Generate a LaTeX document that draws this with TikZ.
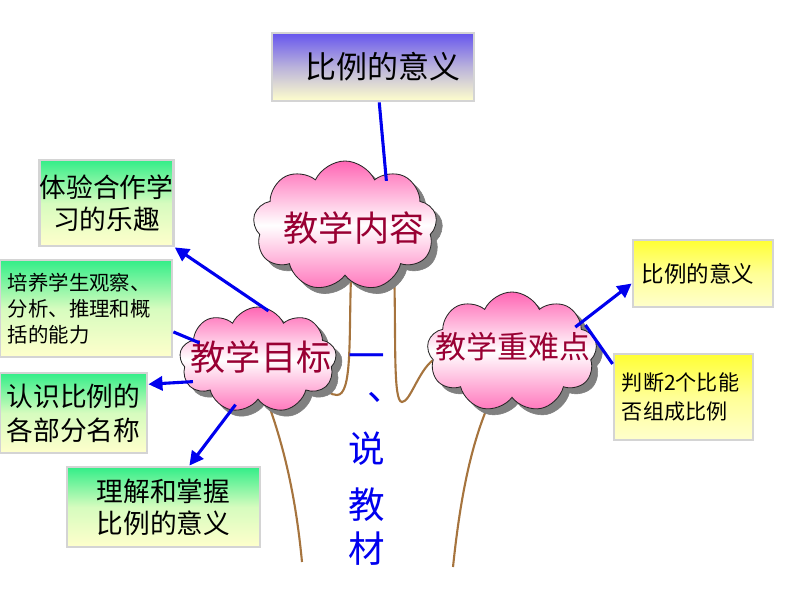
\documentclass[tikz,border=0pt]{standalone}
\usepackage{fontspec}
\setmainfont{Noto Sans CJK SC}
\usepackage{tikz}
\usetikzlibrary{arrows.meta,shapes}
\pgfdeclarelayer{bg}
\pgfsetlayers{bg,main}
\definecolor{CbG}{RGB}{51,238,136}
\definecolor{CbY}{RGB}{255,255,204}
\definecolor{CbP}{RGB}{102,85,238}
\definecolor{CbL}{RGB}{255,255,51}
\definecolor{CcP}{RGB}{255,102,180}
\definecolor{CtR}{RGB}{153,0,51}
\definecolor{ClB}{RGB}{0,0,238}
\definecolor{CrB}{RGB}{166,116,62}
\definecolor{CfG}{RGB}{212,212,212}
\definecolor{CsG}{RGB}{128,128,128}
\tikzset{
boxbase/.style={rectangle, draw=CfG, line width=2pt, inner sep=0pt, text=black},
greenbox/.style={boxbase, top color=CbG, bottom color=CbY, middle color=CbY!80!CbG},
yellowbox/.style={boxbase, top color=CbL, bottom color=CbY, middle color=CbY!65!CbL},
purplebox/.style={boxbase, top color=CbP, bottom color=CbY, middle color=CbY!55!CbP},
cloudbase/.style={cloud, cloud puffs=9, cloud puff arc=130, cloud ignores aspect},
cloudy/.style={cloudbase, draw=black!85, line width=.6pt,
  top color=CcP, bottom color=CcP!90, middle color=white},
ashadow/.style={cloudbase, draw=CsG, fill=CsG},
ctext/.style={text=CtR, inner sep=0pt},
vtext/.style={text=ClB, inner sep=0pt, font=\fontsize{26}{30}\selectfont,
  text height=15pt, text depth=0pt},
link/.style={draw=ClB, line width=2.2pt, shorten <=-5pt},
tip/.style={-{Triangle[length=10pt,width=10pt]}},
stem/.style={draw=CrB, line width=1.5pt},
}

\newcommand\mkbox[7]
{
% name: #1
% posX: #2
% posY: #3
% width: #4
% height: #5
% style: #6
% text: #7
\node[#6, minimum width=#4*0.025cm, minimum height=#5*0.025cm] (#1) at (#2,#3) {#7};
}
%%
\newcommand\mkcloud[5]
{
% name: #1
% posX: #2
% posY: #3
% width: #4
% height: #5
\node[ashadow, minimum width=#4*0.025cm, minimum height=#5*0.025cm] (#1s) at (#2+6,#3-6) {};
\node[cloudy, minimum width=#4*0.025cm, minimum height=#5*0.025cm] (#1) at (#2,#3) {};
}
%%
\newcommand\drawLink[3]
{
% from: #1
% to: #2
% extra: #3
\draw[link, #3] (#1) -- (#2);
}

\begin{document}
\begin{tikzpicture}[x=0.025cm, y=0.025cm]
\useasboundingbox (0,0) rectangle (800,600);

%% top box
\mkbox{topic}{373}{533}{202}{68}{purplebox, font=\fontsize{22}{26}\selectfont}{\hspace{14pt}比例的意义}

% --------------------------------------------------------

%% clouds
\mkcloud{content}{345}{374}{184}{130}
\mkcloud{goal}{258}{240}{157}{106}
\mkcloud{diff}{512}{248}{170}{120}

\node[ctext, font=\fontsize{25}{30}\selectfont] (contentT) at (354,372) {教学内容};
\node[ctext, font=\fontsize{25}{30}\selectfont] (goalT) at (261,243) {教学目标};
\node[ctext, font=\fontsize{22}{26}\selectfont] (diffT) at (513,253) {教学重难点};

% --------------------------------------------------------

%% left boxes
\mkbox{fun}{106.5}{397}{133}{86}{greenbox, align=center, font=\fontsize{19}{22.7}\selectfont}{体验合作学\\习的乐趣}
\mkbox{skill}{86}{291.5}{172}{97}{greenbox, align=left, text width=3.9cm, font=\fontsize{14.5}{18.4}\selectfont}{培养学生观察、\\分析、推理和概\\括的能力}
\mkbox{parts}{73.5}{187}{147}{80}{greenbox, align=center, font=\fontsize{19}{24}\selectfont}{认识比例的\\各部分名称}
\mkbox{grasp}{163.5}{93}{193}{80}{greenbox, align=center, font=\fontsize{19}{22.7}\selectfont}{理解和掌握\\比例的意义}

%% right boxes
\mkbox{keymean}{703}{326.5}{140}{67}{yellowbox, align=left, text width=3.05cm, font=\fontsize{16}{19}\selectfont}{比例的意义}
\mkbox{judge}{683.5}{203}{139}{86}{yellowbox, align=left, text width=3.075cm, font=\fontsize{15}{20}\selectfont}{判断2个比能\\否组成比例}

% --------------------------------------------------------

%% links
\drawLink{content.52}{topic.-80}{}
\drawLink{goal.85}{fun.south east}{tip}
\drawLink{goal.163}{skill.-15}{}
\drawLink{goal.197}{parts.21}{tip}
\drawLink{goal.242}{grasp.58}{tip}
\drawLink{diff.23}{keymean.188}{tip}
\drawLink{diff.9}{judge.155}{shorten <=-12pt}

%% stems
\begin{pgfonlayer}{bg}
\coordinate (rootL) at (302,38);
\coordinate (rootR) at (453,33);
\draw[stem] (content.276) .. controls (349,260) and (352,205) .. (337,205)
  .. controls (330,205) and (326,210) .. (goal.-21);
\draw[stem] (content.-46) .. controls (396,260) and (393,198) .. (402,198)
  .. controls (410,198) and (418,228) .. (diff.186);
\draw[stem] (goal.-76) .. controls (288,140) and (297,90) .. (rootL);
\draw[stem] (diff.-114) .. controls (470,150) and (460,100) .. (rootR);
\end{pgfonlayer}

%% title
\foreach \ch/\xx/\yy [count=\i] in {一/367/241, 、/386/210, 说/367/148, 教/367/92, 材/367/48}
  \node[vtext] (say\i) at (\xx,\yy) {\ch};

\end{tikzpicture}
\end{document}
